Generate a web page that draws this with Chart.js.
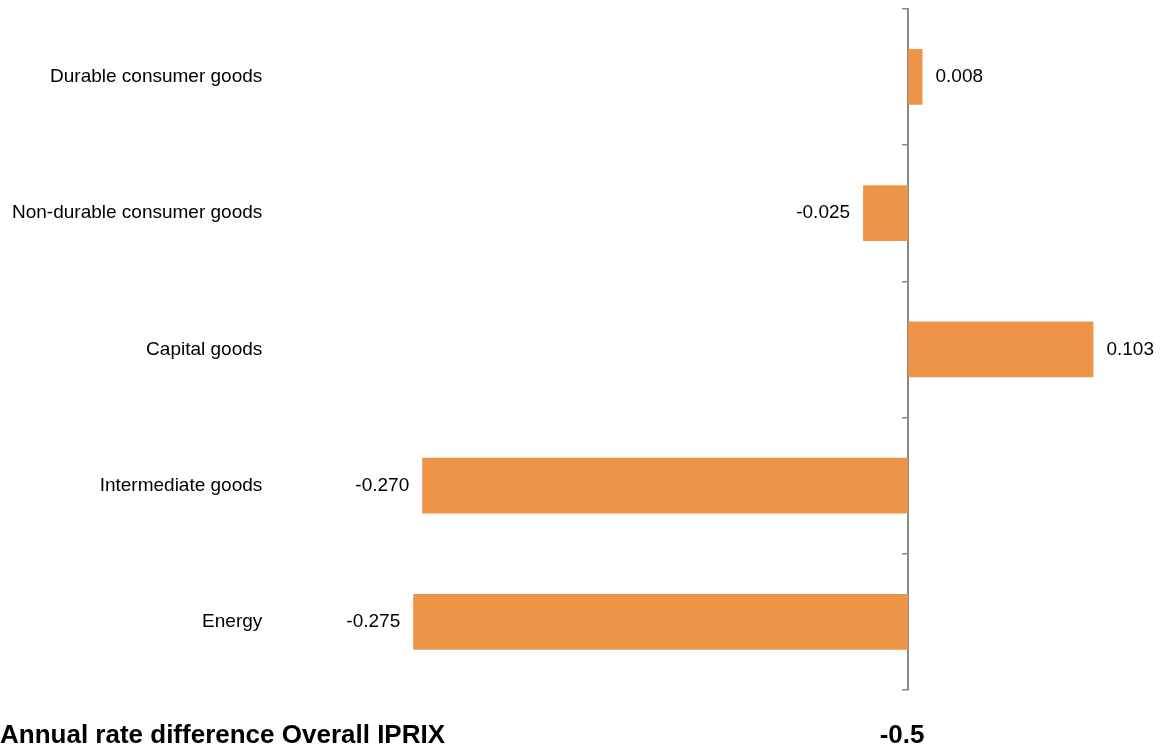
<!DOCTYPE html>
<html lang="en">
<head>
    <meta charset="UTF-8">
    <title>IPRIX annual rate difference</title>
    <style>
        html, body {
            margin: 0;
            padding: 0;
            background: #fff;
            overflow: hidden;
        }
        .chart-box {
            position: relative;
            width: 1160px;
            height: 752px;
            margin-top: -5px;
        }
    </style>
    <script src="https://cdn.jsdelivr.net/npm/chart.js@4/dist/chart.umd.min.js"></script>
</head>
<body>
    <div class="chart-box">
        <canvas id="iprixChart"></canvas>
    </div>

    <script>
        // data
        const categories = ['Durable consumer goods', 'Non-durable consumer goods', 'Capital goods', 'Intermediate goods', 'Energy'];
        const rateDiff = [0.008, -0.025, 0.103, -0.270, -0.275];
        const footerLabel = 'Annual rate difference Overall IPRIX';
        const footerValue = '-0.5';

        const FONT = '"Liberation Sans", Arial, sans-serif';
        const BAR_COLOR = 'rgb(237, 148, 72)';
        const AXIS_COLOR = '#888888';

        // value next to the end of each bar
        const valueLabels = {
            id: 'valueLabels',
            afterDatasetsDraw(chart) {
                const ctx = chart.ctx;
                const meta = chart.getDatasetMeta(0);
                ctx.save();
                ctx.font = '19px ' + FONT;
                ctx.fillStyle = '#000';
                ctx.textBaseline = 'middle';
                meta.data.forEach((bar, i) => {
                    const v = rateDiff[i];
                    if (v >= 0) {
                        ctx.textAlign = 'left';
                        ctx.fillText(v.toFixed(3), bar.x + 13, bar.y);
                    } else {
                        ctx.textAlign = 'right';
                        ctx.fillText(v.toFixed(3), bar.x - 13, bar.y);
                    }
                });
                ctx.restore();
            }
        };

        // total row under the chart
        const footerRow = {
            id: 'footerRow',
            afterDraw(chart) {
                const ctx = chart.ctx;
                const x0 = chart.scales.x.getPixelForValue(0);
                ctx.save();
                ctx.font = 'bold 26px ' + FONT;
                ctx.fillStyle = '#000';
                ctx.textBaseline = 'alphabetic';
                ctx.textAlign = 'left';
                ctx.fillText(footerLabel, 0, 748);
                ctx.textAlign = 'center';
                ctx.fillText(footerValue, x0 - 6, 748);
                ctx.restore();
            }
        };

        new Chart(document.getElementById('iprixChart'), {
            type: 'bar',
            data: {
                labels: categories,
                datasets: [{
                    data: rateDiff,
                    backgroundColor: BAR_COLOR,
                    borderWidth: 0,
                    categoryPercentage: 1,
                    barPercentage: 0.41,
                    yAxisID: 'y'
                }]
            },
            options: {
                indexAxis: 'y',
                responsive: true,
                maintainAspectRatio: false,
                animation: false,
                layout: {
                    padding: { left: 2, top: 4, right: 0, bottom: 57 }
                },
                plugins: {
                    legend: { display: false },
                    tooltip: { enabled: false }
                },
                scales: {
                    x: {
                        display: false,
                        min: -0.3533,
                        max: 0.14
                    },
                    y: {
                        type: 'category',
                        position: 'left',
                        offset: true,
                        grid: { display: false, drawTicks: false },
                        border: { display: false },
                        ticks: {
                            color: '#000',
                            padding: 10,
                            font: { family: FONT, size: 19, lineHeight: 0.4 }
                        }
                    },
                    y2: {
                        type: 'category',
                        axis: 'y',
                        position: { x: 0 },
                        offset: true,
                        z: 1,
                        grid: {
                            offset: true,
                            drawOnChartArea: false,
                            drawTicks: true,
                            tickLength: 5,
                            color: AXIS_COLOR,
                            lineWidth: 1.5
                        },
                        border: { display: true, color: AXIS_COLOR, width: 2 },
                        ticks: { display: false }
                    }
                }
            },
            plugins: [valueLabels, footerRow]
        });
    </script>
</body>
</html>
